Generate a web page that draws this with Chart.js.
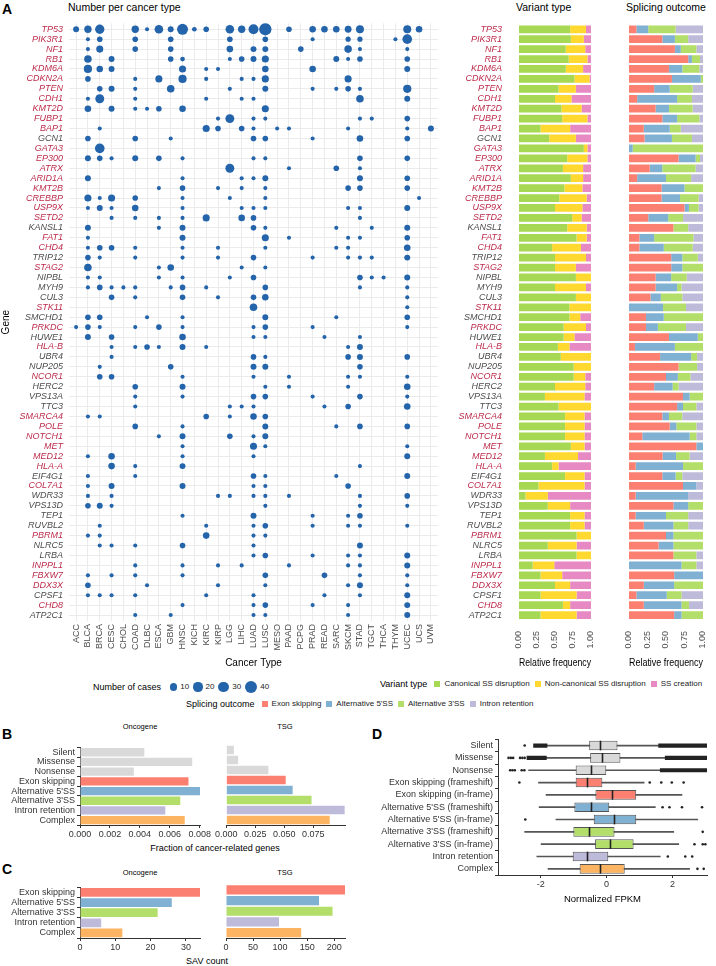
<!DOCTYPE html>
<html>
<head>
<meta charset="utf-8">
<script src="https://cdn.jsdelivr.net/npm/chart.js@4.4.0/dist/chart.umd.min.js"></script>
<style>
  body { margin: 0; background: #fff; width: 716px; height: 966px; position: relative; overflow: hidden;
         font-family: "Liberation Sans", Arial, Helvetica, sans-serif; }
  canvas { position: absolute; }
  .t { position: absolute; white-space: nowrap; color: #000; line-height: 1; }
  .lab { position: absolute; font-weight: bold; font-size: 14px; line-height: 1; }
  .leg { position: absolute; display: flex; align-items: center; white-space: nowrap; font-size: 8px; color: #222; line-height: 1; }
  .leg .ttl { font-size: 9px; color: #000; margin-right: 7px; }
  .leg .sq { width: 6px; height: 6px; margin-right: 4px; }
  .leg .it { display: flex; align-items: center; margin-right: 5px; }
</style>
</head>
<body>
<div class="lab" style="left:2px;top:2px">A</div>
<div class="t" style="left:68px;top:2px;font-size:10.5px">Number per cancer type</div>
<div class="t" style="left:516px;top:2px;font-size:10.5px">Variant type</div>
<div class="t" style="left:626px;top:2px;font-size:10.5px">Splicing outcome</div>

<div class="lab" style="left:2px;top:727px">B</div>
<div class="lab" style="left:2px;top:862px">C</div>
<div class="lab" style="left:372px;top:727px">D</div>

<script>
// ---- panel A data ----
const cancerTypes = ['ACC','BLCA','BRCA','CESC','CHOL','COAD','DLBC','ESCA','GBM','HNSC','KICH','KIRC','KIRP','LGG',
  'LIHC','LUAD','LUSC','MESO','PAAD','PCPG','PRAD','READ','SARC','SKCM','STAD','TGCT','THCA','THYM','UCEC','UCS','UVM'];

const genes = ['TP53','PIK3R1','NF1','RB1','KDM6A','CDKN2A','PTEN','CDH1','KMT2D','FUBP1','BAP1','GCN1','GATA3','EP300',
  'ATRX','ARID1A','KMT2B','CREBBP','USP9X','SETD2','KANSL1','FAT1','CHD4','TRIP12','STAG2','NIPBL','MYH9','CUL3','STK11',
  'SMCHD1','PRKDC','HUWE1','HLA-B','UBR4','NUP205','NCOR1','HERC2','VPS13A','TTC3','SMARCA4','POLE','NOTCH1','MET',
  'MED12','HLA-A','EIF4G1','COL7A1','WDR33','VPS13D','TEP1','RUVBL2','PBRM1','NLRC5','LRBA','INPPL1','FBXW7','DDX3X',
  'CPSF1','CHD8','ATP2C1'];

// cancer-related genes (labels in red)
const cancerGenes = ['TP53','PIK3R1','NF1','RB1','KDM6A','CDKN2A','PTEN','CDH1','KMT2D','FUBP1','BAP1','GATA3','EP300',
  'ATRX','ARID1A','KMT2B','CREBBP','USP9X','SETD2','FAT1','CHD4','STAG2','STK11','PRKDC','HLA-B','NCOR1','SMARCA4',
  'POLE','NOTCH1','MET','MED12','HLA-A','COL7A1','PBRM1','INPPL1','FBXW7','DDX3X','CHD8'];

// number of cases per gene (same order as genes)
const caseCounts = [
  {ACC:5,BLCA:10,BRCA:20,COAD:10,DLBC:1,ESCA:16,GBM:5,HNSC:31,KICH:2,KIRC:4,LGG:16,LIHC:10,LUAD:24,LUSC:42,PAAD:4,PRAD:7,READ:7,SARC:7,SKCM:8,STAD:13,UCEC:13,UCS:7},
  {BLCA:1,BRCA:4,COAD:4,GBM:4,LGG:4,LUSC:4,PRAD:1,SKCM:3,STAD:3,THYM:1,UCEC:22},
  {BLCA:1,BRCA:9,COAD:4,GBM:4,LGG:7,LUAD:5,LUSC:5,PCPG:4,SKCM:11,STAD:1,UCEC:1},
  {BLCA:11,CESC:5,GBM:4,HNSC:2,LGG:1,LIHC:4,LUAD:5,LUSC:9,SARC:5,SKCM:1,STAD:4,UCEC:4},
  {BLCA:14,BRCA:7,CESC:5,HNSC:9,KIRC:1,KIRP:1,LUSC:7,PRAD:7,UCEC:5},
  {BLCA:4,COAD:1,ESCA:9,HNSC:14,KIRC:1,LIHC:1,LUAD:1,LUSC:9,SKCM:9},
  {BRCA:4,CESC:5,COAD:1,GBM:11,LGG:1,LUSC:5,PRAD:1,SARC:1,SKCM:4,STAD:1,UCEC:14},
  {BLCA:1,BRCA:18,COAD:1,KIRC:1,LIHC:1,LUAD:1,STAD:11,UCEC:5},
  {BLCA:7,CESC:5,COAD:1,DLBC:1,ESCA:4,HNSC:7,LUSC:9},
  {KIRP:1,LGG:18,LUAD:1,LUSC:1,STAD:1,TGCT:1,UCEC:4},
  {BRCA:1,KIRC:9,KIRP:4,LIHC:4,LUAD:1,MESO:1,PAAD:1,SKCM:1,UCEC:1,UVM:5},
  {BLCA:4,COAD:4,GBM:1,LUAD:4,LUSC:4,PRAD:1,STAD:7,UCEC:4},
  {BRCA:22},
  {BLCA:5,BRCA:4,CESC:1,COAD:5,ESCA:4,HNSC:1,LUAD:1,LUSC:1,STAD:4,UCEC:4},
  {LGG:18,PAAD:1,SARC:4,STAD:1},
  {BLCA:5,HNSC:1,LIHC:1,LUAD:1,LUSC:5,STAD:5,UCEC:4},
  {ESCA:1,HNSC:4,KIRP:1,LIHC:1,LUSC:1,SKCM:4,STAD:4,UCEC:4},
  {BLCA:9,BRCA:1,CESC:9,COAD:4,HNSC:1,LGG:1,LUSC:1,UCS:1},
  {BLCA:1,BRCA:5,CESC:1,COAD:7,HNSC:1,LIHC:1,LUAD:1,LUSC:1,SKCM:1,STAD:1,UCEC:5},
  {CESC:1,COAD:1,ESCA:1,HNSC:1,KIRC:9,LIHC:7,LUAD:4,STAD:1},
  {BLCA:5,ESCA:1,HNSC:5,LUAD:4,LUSC:1,SARC:1,TGCT:1,UCEC:5},
  {BLCA:1,HNSC:5,LUSC:9,PAAD:1,SKCM:1,STAD:1,UCEC:4},
  {BLCA:1,BRCA:4,CESC:4,COAD:1,HNSC:1,KIRP:1,LUSC:1,SARC:1,SKCM:1,UCEC:7},
  {BLCA:4,BRCA:1,COAD:1,HNSC:1,KIRP:1,LUAD:4,PRAD:1,SKCM:1,STAD:1,TGCT:1,UCEC:5},
  {BLCA:11,ESCA:1,GBM:7,LIHC:1,LUSC:1},
  {BLCA:1,BRCA:1,ESCA:1,HNSC:1,LGG:1,LUAD:4,STAD:4,TGCT:1,THCA:1,UCEC:5},
  {BLCA:1,BRCA:4,CESC:1,CHOL:1,COAD:1,GBM:1,HNSC:4,KIRC:1,LUSC:4,STAD:1,UCEC:1},
  {CESC:4,COAD:1,HNSC:4,KIRP:1,LUAD:4,LUSC:7,UCEC:1},
  {LUAD:11,UCEC:1},
  {BLCA:4,BRCA:4,DLBC:1,HNSC:1,LUSC:5,SARC:1,UCEC:4},
  {ACC:1,BLCA:4,BRCA:1,COAD:1,ESCA:4,HNSC:1,LUAD:1,LUSC:4,PRAD:1,UCEC:1},
  {BLCA:5,CESC:4,HNSC:7,LUAD:1,LUSC:1,READ:1,STAD:1},
  {CESC:1,COAD:1,DLBC:4,ESCA:1,HNSC:5,KIRC:1,SKCM:1,STAD:5},
  {CESC:1,LUAD:4,LUSC:1,SKCM:4,STAD:5,UCEC:4},
  {BRCA:1,GBM:4,LUAD:5,LUSC:5,STAD:4},
  {BRCA:4,CESC:4,HNSC:1,LUAD:1,PAAD:1,SKCM:1,STAD:1,UCEC:1},
  {COAD:4,HNSC:5,LUSC:1,PAAD:1,SKCM:1,UCEC:7},
  {COAD:1,HNSC:1,LUAD:4,LUSC:4,PRAD:1,STAD:4,UCEC:1},
  {COAD:1,LGG:1,LIHC:1,LUAD:1,READ:1,SKCM:4,UCEC:7},
  {BLCA:1,BRCA:1,KIRC:4,LGG:1,LUAD:7,LUSC:4},
  {COAD:4,HNSC:1,LUSC:5,SARC:1,STAD:4,UCEC:4},
  {ESCA:1,HNSC:5,LGG:4,LUAD:1,LUSC:5},
  {HNSC:1,LUAD:9,LUSC:1,UCEC:1},
  {BLCA:1,CESC:7,HNSC:1,LUAD:1,UCEC:5},
  {CESC:7,COAD:1,HNSC:5,STAD:1},
  {BLCA:1,COAD:1,LUAD:4,LUSC:1,SARC:1,UCEC:5},
  {BLCA:1,CESC:5,HNSC:5,LUAD:1,LUSC:1,SKCM:4},
  {BLCA:1,CESC:1,KIRP:1,LGG:1,LUAD:1,LUSC:1,PAAD:1,STAD:1,UCEC:4},
  {BLCA:4,BRCA:5,CESC:1,LUSC:1,STAD:1,UCEC:1},
  {HNSC:1,LUAD:5,PRAD:1,SKCM:1,STAD:4},
  {BRCA:1,KIRC:1,LUAD:1,LUSC:4,PRAD:1,SKCM:1,STAD:1,UCEC:1},
  {BLCA:1,BRCA:1,KIRC:7,LUAD:1,LUSC:1},
  {BRCA:1,CESC:1,COAD:1,HNSC:4,LUAD:1,STAD:5},
  {LUAD:1,LUSC:4,PRAD:1,SKCM:1,STAD:1,UCEC:5},
  {COAD:1,HNSC:1,KIRP:1,LIHC:1,PAAD:1,SKCM:1,STAD:1,UCEC:5},
  {BLCA:1,CESC:1,COAD:1,HNSC:1,LUSC:4,READ:4,STAD:1,UCEC:1},
  {BLCA:4,DLBC:1,KIRP:1,LUSC:1,SKCM:1,STAD:5,UCEC:1},
  {BLCA:1,BRCA:1,CESC:1,COAD:1,KIRC:1,LUAD:1,READ:1,STAD:1,UCEC:5},
  {HNSC:1,LUAD:1,LUSC:4,PRAD:1,SKCM:1,UCEC:5},
  {COAD:1,GBM:1,LUAD:1,LUSC:1,SKCM:1,UCEC:5}
];
const caseLegend = [10, 20, 30, 40];

// variant type fractions (gene order)
const canonical = [.71,.72,.65,.69,.65,.77,.55,.50,.59,.60,.30,.42,.90,.67,.61,.72,.63,.56,.50,.74,
  .67,.80,.46,.50,.50,.79,.50,.79,.70,.70,.62,.62,.54,.58,.76,.76,.50,.36,.55,.64,
  .64,.64,.72,.36,.46,.64,.27,.09,.40,.71,.71,.80,.40,.80,.19,.30,.50,.30,.61,.30];
const nonCanonical = [.22,.18,.27,.26,.24,.21,.24,.23,.28,.35,.41,.37,.05,.28,.28,.17,.25,.38,.38,.13,
  .27,.14,.40,.43,.29,.21,.43,.21,.30,.15,.31,.15,.16,.42,.24,.16,.42,.55,.45,.27,
  .27,.27,.19,.46,.09,.27,.64,.31,.31,.20,.20,.20,.40,.20,.30,.30,.21,.50,.10,.50];
const ssCreation = [.07,.10,.08,.05,.11,.02,.21,.27,.13,.05,.29,.21,.05,.05,.11,.11,.12,.06,.12,.13,
  .06,.06,.14,.07,.21,0,.07,0,0,.15,.07,.23,.30,0,0,.08,.08,.09,0,.09,
  .09,.09,.09,.18,.45,.09,.09,.60,.29,.09,.09,0,.20,0,.51,.40,.29,.20,.29,.20];

// splicing outcome fractions (gene order)
const exonSkip = [.10,.45,.62,.80,.54,.58,.34,.11,.36,.45,.20,.21,0,.67,.28,.11,.44,.44,.75,.26,
  .60,.14,.14,.57,.57,.36,.36,.29,0,.23,.23,.54,.08,.42,.67,.50,.34,.73,.65,.45,
  .55,.18,.91,.45,.09,.45,.73,.09,.60,.09,.20,.50,.40,.60,0,.61,.20,.10,.20,.61];
const alt5 = [.16,.17,.08,.05,.18,.39,.21,.54,.18,.20,.35,.37,.05,.23,.17,.39,.31,.25,.06,.27,
  0,.20,.33,.15,.15,.21,.29,.14,.46,.24,.16,.39,.54,.42,0,.16,.25,.09,.08,.09,
  .09,.64,.09,.18,.64,.18,.18,.71,.20,.41,.40,.10,.20,0,.71,.39,.41,.41,.51,.10];
const alt3 = [.37,.18,.21,.11,.23,.03,.31,.20,.32,.30,.15,.27,.95,.06,.45,.34,.25,.25,.13,.20,
  .20,.53,.39,.21,.28,.21,.06,.29,.31,.53,.38,.07,.38,.08,.25,.17,.08,.18,.18,.18,
  .27,.09,0,.18,.27,.09,0,0,.20,.30,.20,.40,.40,.31,.20,0,.39,.20,.10,.29];
const intronRet = [.37,.20,.09,.04,.05,0,.14,.15,.14,.05,.30,.15,0,.04,.10,.16,0,.06,.06,.27,
  .20,.13,.14,.07,0,.22,.29,.28,.23,0,.23,0,0,.08,.08,.17,.33,0,.09,.28,
  .09,.09,0,.18,0,.28,.09,.20,0,.20,.20,0,0,.09,.09,0,0,.29,.19,0];

// ---- panel B / C data ----
const bCats = ['Silent','Missense','Nonsense','Exon skipping',"Alternative 5'SS","Alternative 3'SS",'Intron retention','Complex'];
const bOncogene = [0.0043, 0.0075, 0.0036, 0.00725, 0.00802, 0.0067, 0.0057, 0.0070];
const bTSG = [0.0066, 0.0103, 0.0364, 0.0513, 0.0573, 0.0736, 0.1022, 0.0893];
const cCats = ['Exon skipping',"Alternative 5'SS","Alternative 3'SS",'Intron retention','Complex'];
const cOncogene = [34, 26, 22, 6, 12];
const cTSG = [220, 172, 197, 98, 139];

// ---- panel D data ----
const dCats = ['Silent','Missense','Nonsense','Exon skipping (frameshift)','Exon skipping (in-frame)',
  "Alternative 5'SS (frameshift)","Alternative 5'SS (in-frame)","Alternative 3'SS (frameshift)",
  "Alternative 3'SS (in-frame)",'Intron retention','Complex'];
const dQ1     = [-0.53,-0.50,-0.94,-0.94,-0.34,-0.98,-0.39,-1.01,-0.35,-1.03,-0.82];
const dMedian = [-0.19,-0.15,-0.48,-0.60, 0.15,-0.48, 0.21,-0.55, 0.11,-0.60,-0.19];
const dQ3     = [ 0.33, 0.42,-0.01,-0.13, 0.90, 0.08, 0.90, 0.24, 0.82, 0.05, 0.55];
const dLow    = [-1.81,-1.83,-2.37,-2.07,-1.84,-2.05,-1.54,-2.49,-1.99,-2.12,-1.78];
const dHigh   = [ 1.58, 1.78, 1.63, 1.14, 2.29, 1.48, 2.77, 2.04, 2.19, 1.63, 2.52];
const dOutliers = [[-2.49],[-2.98,-2.91,-2.84,-2.63,-2.56,-2.49],[-2.93,-2.86,-2.79,-2.58,-2.50],
  [-2.65,1.31,1.66,1.98,2.34],[],[1.70,1.91,2.29,2.90],[-2.47],[2.92],[2.67,2.92,3.0],[1.86,2.39,2.60],[2.76,2.95]];
const dDenseLow  = [[-2.22,-1.81],[-2.42,-1.83],null,null,null,null,null,null,null,null,null];
const dDenseHigh = [[1.58,3.05],[1.78,3.05],[1.63,3.05],null,null,null,null,null,null,null,null];

// ---- colours ----
const RED = '#BC2C4C', GREY = '#4D4D4D', BLUE = '#2464AA', DARK = '#333333';
const variantColors = ['#A6D854', '#FFD92F', '#E78AC3'];
const variantNames = ['Canonical SS disruption', 'Non-canonical SS disruption', 'SS creation'];
const outcomeColors = ['#FB8072', '#80B1D3', '#B3DE69', '#BEBADA'];
const outcomeNames = ['Exon skipping', "Alternative 5'SS", "Alternative 3'SS", 'Intron retention'];
const COMPLEX = '#FDB462', SNV = '#D9D9D9';

Chart.defaults.font.family = '"Liberation Sans", Arial, Helvetica, sans-serif';
Chart.defaults.animation = false;
Chart.defaults.plugins.legend.display = false;
Chart.defaults.plugins.tooltip.enabled = false;

function mk(left, top, w, h) {
  const c = document.createElement('canvas');
  c.width = w; c.height = h;
  c.style.left = left + 'px'; c.style.top = top + 'px';
  c.style.width = w + 'px'; c.style.height = h + 'px';
  document.body.appendChild(c);
  return c;
}
function txt(s, left, top, size, center) {
  const d = document.createElement('div');
  d.className = 't'; d.textContent = s;
  d.style.fontSize = size + 'px'; d.style.top = top + 'px';
  if (center) { d.style.left = (left - 200) + 'px'; d.style.width = '400px'; d.style.textAlign = 'center'; }
  else d.style.left = left + 'px';
  document.body.appendChild(d);
}
const fixTicks = vals => s => { s.ticks = vals.map(v => ({ value: v })); };
const geneColor = g => cancerGenes.includes(g) ? RED : GREY;
const sizeFor = n => 1.3 + 0.75 * Math.sqrt(n);

// ---- A: bubble ----
const bubblePoints = [];
caseCounts.forEach((row, gi) => {
  Object.keys(row).forEach(ct => {
    bubblePoints.push({ x: cancerTypes.indexOf(ct), y: gi, r: sizeFor(row[ct]) });
  });
});

new Chart(mk(0, 0, 446, 669), {
  type: 'bubble',
  data: { datasets: [{ data: bubblePoints, backgroundColor: BLUE, borderWidth: 0, hoverRadius: 0 }] },
  options: {
    responsive: false, devicePixelRatio: 1,
    layout: { padding: { top: 23.3, right: 8, left: 0, bottom: 0 } },
    scales: {
      x: {
        type: 'linear', min: -0.6, max: 30.6,
        afterBuildTicks: fixTicks(cancerTypes.map((c, i) => i)),
        afterFit: s => { s.height = 48; },
        ticks: { autoSkip: false, minRotation: 90, maxRotation: 90, padding: 3, color: GREY,
                 font: { size: 9 }, callback: v => cancerTypes[v] },
        grid: { color: '#EBEBEB', drawTicks: false }, border: { display: false },
        title: { display: true, text: 'Cancer Type', color: '#000', font: { size: 10 }, padding: 0 }
      },
      y: {
        type: 'linear', reverse: true, min: -0.6, max: 59.6,
        afterBuildTicks: fixTicks(genes.map((g, i) => i)),
        afterFit: s => { s.width = 69; },
        ticks: { autoSkip: false, padding: 6, font: { size: 9, style: 'italic' },
                 color: ctx => geneColor(genes[ctx.tick.value]), callback: v => genes[v] },
        grid: { color: '#EBEBEB', drawTicks: false }, border: { display: false },
        title: { display: true, text: 'Gene', color: '#000', font: { size: 10 }, padding: 0 }
      }
    }
  }
});

// ---- A: stacked fraction panels ----
function norm(parts) {
  return parts[0].map((v, i) => {
    const tot = parts.reduce((a, p) => a + p[i], 0);
    return parts.map(p => p[i] / tot);
  });
}
function fractionPanel(canvas, parts, colors, yWidth, pad) {
  const rows = norm(parts);
  new Chart(canvas, {
    type: 'bar',
    data: {
      labels: genes,
      datasets: colors.map((col, k) => ({ data: rows.map(r => r[k]), backgroundColor: col }))
    },
    options: {
      responsive: false, devicePixelRatio: 1, indexAxis: 'y',
      layout: { padding: pad },
      datasets: { bar: { barPercentage: 0.78, categoryPercentage: 1 } },
      scales: {
        x: {
          stacked: true, min: 0, max: 1,
          afterBuildTicks: fixTicks([0, 0.25, 0.5, 0.75, 1]),
          afterFit: s => { s.height = 49; },
          ticks: { minRotation: 90, maxRotation: 90, padding: 3, color: GREY, font: { size: 9 },
                   callback: v => v.toFixed(2) },
          grid: { display: false }, border: { display: false },
          title: { display: true, text: 'Relative frequency', color: '#000', font: { size: 10 }, padding: 0 }
        },
        y: {
          stacked: true,
          afterFit: s => { s.width = yWidth; },
          ticks: { display: yWidth > 0, autoSkip: false, padding: 9, font: { size: 9, style: 'italic' },
                   color: ctx => geneColor(genes[ctx.index]) },
          grid: { display: false }, border: { display: false }
        }
      }
    }
  });
}
fractionPanel(mk(457, 0, 148, 669), [canonical, nonCanonical, ssCreation], variantColors, 62,
  { top: 24.3, right: 14, left: 0, bottom: 0 });
fractionPanel(mk(623, 0, 94, 669), [exonSkip, alt5, alt3, intronRet], outcomeColors, 6,
  { top: 24.3, right: 14, left: 0, bottom: 0 });

// ---- legends ----
function legend(left, cy, title, items) {
  const d = document.createElement('div');
  d.className = 'leg';
  d.style.left = left + 'px'; d.style.top = (cy - 5) + 'px'; d.style.height = '10px';
  const t = document.createElement('span'); t.className = 'ttl'; t.textContent = title; d.appendChild(t);
  items.forEach(it => {
    const w = document.createElement('span'); w.className = 'it';
    const k = document.createElement('span');
    if (it.r) {
      k.style.cssText = `width:${2 * it.r}px;height:${2 * it.r}px;border-radius:50%;background:${BLUE};margin:0 3px 0 2px;flex:none;`;
      w.style.marginRight = '2px';
    } else {
      k.className = 'sq'; k.style.background = it.color;
    }
    w.appendChild(k);
    const s = document.createElement('span'); s.textContent = it.label; w.appendChild(s);
    d.appendChild(w);
  });
  document.body.appendChild(d);
}
legend(93, 687, 'Number of cases', caseLegend.map(n => ({ r: sizeFor(n), label: String(n) })));
legend(380, 684, 'Variant type', variantNames.map((n, i) => ({ color: variantColors[i], label: n })));
legend(186, 704, 'Splicing outcome', outcomeNames.map((n, i) => ({ color: outcomeColors[i], label: n })));

// ---- B / C facets ----
const axisLine = { display: true, color: DARK, width: 1 };
const tickMarks = { display: true, drawOnChartArea: false, drawTicks: true, tickLength: 3, color: DARK };
function facet(canvas, cats, vals, colors, xmax, xticks, fmt, showY, pad, xh) {
  new Chart(canvas, {
    type: 'bar',
    data: { labels: cats, datasets: [{ data: vals, backgroundColor: colors, barPercentage: 0.86, categoryPercentage: 1 }] },
    options: {
      responsive: false, devicePixelRatio: 1, indexAxis: 'y',
      layout: { padding: pad },
      scales: {
        x: {
          min: 0, max: xmax, afterBuildTicks: fixTicks(xticks),
          afterFit: s => { s.height = xh; },
          ticks: { padding: 1, color: DARK, font: { size: 9 }, callback: fmt, maxRotation: 0 },
          grid: tickMarks, border: axisLine
        },
        y: {
          display: showY,
          afterFit: s => { s.width = showY ? 80 : 0; },
          ticks: { autoSkip: false, padding: 2, color: DARK, font: { size: 9 } },
          grid: tickMarks, border: axisLine
        }
      }
    }
  });
}
const bColors = [SNV, SNV, SNV, ...outcomeColors, COMPLEX];
const cColors = [...outcomeColors, COMPLEX];
facet(mk(0, 740, 212, 101), bCats, bOncogene, bColors, 0.00802, [0, 0.002, 0.004, 0.006, 0.008],
  v => v.toFixed(3), true, { top: 5, right: 12, left: 0, bottom: 0 }, 16);
facet(mk(214, 740, 143, 101), bCats, bTSG, bColors, 0.1025, [0, 0.025, 0.05, 0.075],
  v => v.toFixed(3), false, { top: 5, right: 12, left: 12, bottom: 0 }, 16);
facet(mk(0, 880, 212, 74), cCats, cOncogene, cColors, 34, [0, 10, 20, 30],
  v => String(v), true, { top: 4.5, right: 12, left: 0, bottom: 0 }, 16);
facet(mk(214, 880, 143, 74), cCats, cTSG, cColors, 220, [0, 50, 100, 150, 200],
  v => String(v), false, { top: 4.5, right: 12, left: 12, bottom: 0 }, 16);

txt('Oncogene', 140, 723, 7.5, true);
txt('TSG', 285, 723, 7.5, true);
txt('Fraction of cancer-related genes', 215, 844, 9, true);
txt('Oncogene', 140, 869, 7.5, true);
txt('TSG', 285, 869, 7.5, true);
txt('SAV count', 207, 957, 9, true);

// ---- D: boxplots ----
const dColors = [SNV, SNV, SNV, outcomeColors[0], outcomeColors[0], outcomeColors[1], outcomeColors[1],
  outcomeColors[2], outcomeColors[2], outcomeColors[3], COMPLEX];
const outlierPoints = [];
dOutliers.forEach((list, i) => list.forEach(v => outlierPoints.push({ x: v, y: dCats[i] })));

const medianPlugin = {
  id: 'medians',
  afterDatasetsDraw(chart) {
    const { ctx, scales: { x } } = chart;
    const meta = chart.getDatasetMeta(0);
    ctx.save();
    ctx.strokeStyle = '#222'; ctx.lineWidth = 1.6;
    meta.data.forEach((bar, i) => {
      const px = Math.round(x.getPixelForValue(dMedian[i])) + 0.5;
      ctx.beginPath();
      ctx.moveTo(px, bar.y - bar.height / 2);
      ctx.lineTo(px, bar.y + bar.height / 2);
      ctx.stroke();
    });
    ctx.restore();
  }
};

new Chart(mk(372, 732, 339, 173), {
  type: 'bar',
  data: {
    labels: dCats,
    datasets: [
      { data: dCats.map((c, i) => [dQ1[i], dQ3[i]]), backgroundColor: dColors, borderColor: '#555',
        borderWidth: 1, borderSkipped: false, barPercentage: 0.78, categoryPercentage: 1, grouped: false, order: 1 },
      { data: dCats.map((c, i) => [dLow[i], dHigh[i]]), backgroundColor: '#555', barThickness: 1,
        grouped: false, order: 4 },
      { data: dDenseLow, backgroundColor: '#222', barThickness: 3.5, grouped: false, order: 3 },
      { data: dDenseHigh, backgroundColor: '#222', barThickness: 3.5, grouped: false, order: 3 },
      { type: 'scatter', data: outlierPoints, pointRadius: 1.3, backgroundColor: '#222', borderWidth: 0, order: 2 }
    ]
  },
  options: {
    responsive: false, devicePixelRatio: 1, indexAxis: 'y',
    layout: { padding: { top: 5, right: 4, left: 0, bottom: 0 } },
    scales: {
      x: {
        type: 'linear', min: -3.3, max: 3.05, afterBuildTicks: fixTicks([-2, 0, 2]),
        afterFit: s => { s.height = 30; },
        ticks: { padding: 1, color: DARK, font: { size: 9 } },
        grid: tickMarks, border: axisLine,
        title: { display: true, text: 'Normalized FPKM', color: '#000', font: { size: 9.5 }, padding: 0 }
      },
      y: {
        type: 'category',
        afterFit: s => { s.width = 126; },
        ticks: { autoSkip: false, padding: 2, color: DARK, font: { size: 9 } },
        grid: tickMarks, border: axisLine
      }
    }
  },
  plugins: [medianPlugin]
});
</script>
</body>
</html>
